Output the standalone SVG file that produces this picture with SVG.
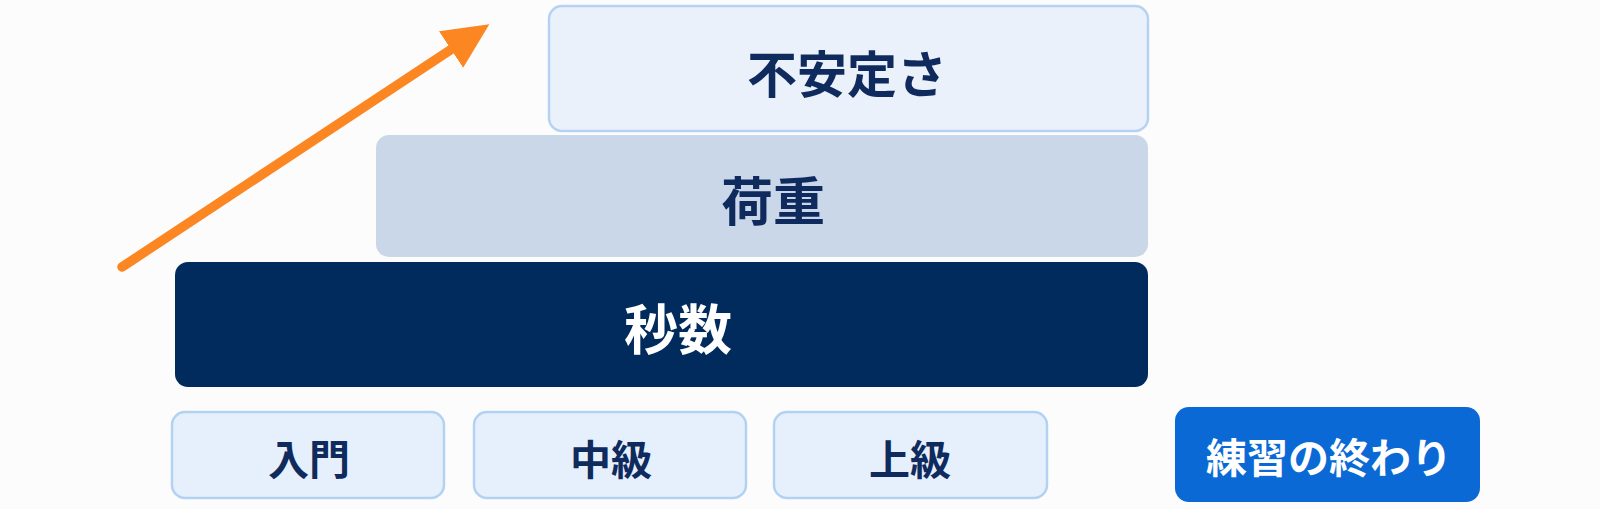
<svg xmlns="http://www.w3.org/2000/svg" width="1600" height="509" viewBox="0 0 1600 509">
<style>
  .lbl { font-family: "Noto Sans CJK JP", "Noto Sans", sans-serif; font-weight: 700; text-anchor: middle; dominant-baseline: central; }
  .dark { fill: #0f2a5c; }
  .light { fill: #ffffff; }
  .tier { fill: #e6f0fc; stroke: #b3d1f3; stroke-width: 2.5; }
  .conn { fill: none; stroke: #fb8622; stroke-width: 9.5; stroke-linecap: round; }
</style>
<defs>
  <marker id="ah" markerUnits="userSpaceOnUse" markerWidth="46" markerHeight="44" viewBox="0 0 46 44" refX="0" refY="22" orient="auto">
    <path d="M0,0 L46,22 L0,44 z" fill="#fb8622"/>
  </marker>
</defs>
<rect x="0" y="0" width="1600" height="509" fill="#fcfcfd"/>
<g id="connectors">
  <path class="conn" d="M122,267 L451,49.5" marker-end="url(#ah)"/>
</g>
<g id="node-fuanteisa">
  <rect x="549" y="6" width="599" height="125" rx="13" fill="#eaf1fa" stroke="#b6d2f2" stroke-width="2.5"/>
  <text class="lbl dark" x="847" y="71" font-size="50">不安定さ</text>
</g>
<g id="node-kaju">
  <rect x="376" y="135" width="772" height="122" rx="13" fill="#c9d7e8"/>
  <text class="lbl dark" x="773" y="198" font-size="52">荷重</text>
</g>
<g id="node-byosu">
  <rect x="175" y="262" width="973" height="125" rx="13" fill="#012b5d"/>
  <text class="lbl light" x="678" y="326" font-size="54">秒数</text>
</g>
<g id="node-nyumon">
  <rect class="tier" x="172" y="412" width="272" height="86" rx="13"/>
  <text class="lbl dark" x="309" y="457" font-size="41">入門</text>
</g>
<g id="node-chukyu">
  <rect class="tier" x="474" y="412" width="272" height="86" rx="13"/>
  <text class="lbl dark" x="611" y="457" font-size="41">中級</text>
</g>
<g id="node-jokyu">
  <rect class="tier" x="774" y="412" width="273" height="86" rx="13"/>
  <text class="lbl dark" x="910" y="457" font-size="41">上級</text>
</g>
<g id="node-end">
  <rect x="1175" y="407" width="305" height="95" rx="14" fill="#0b69d5"/>
  <text class="lbl light" x="1329" y="455" font-size="41">練習の終わり</text>
</g>
</svg>
